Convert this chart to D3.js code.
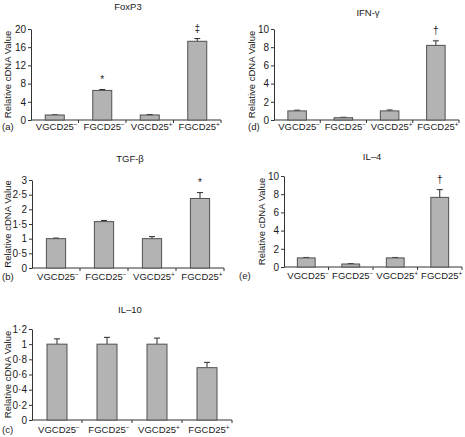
<!DOCTYPE html>
<html><head><meta charset="utf-8">
<script src="https://cdn.jsdelivr.net/npm/d3@7"></script>
<style>
body{margin:0;background:#fff}
text{font-family:"Liberation Sans",Arial,sans-serif;fill:#1a1a1a}
</style>
</head><body>
<svg id="chart" width="465" height="437"></svg>
<script>
// ---- data ----
const categories = ["VGCD25", "FGCD25", "VGCD25", "FGCD25"];
const categorySigns = ["\u2212", "\u2212", "+", "+"];

const foxp3Values = [1.1, 6.5, 1.1, 17.3];
const foxp3Errors = [0.05, 0.2, 0.1, 0.6];
const foxp3Marks = ["", "*", "", "\u2021"];
const foxp3Ticks = [0, 4, 8, 12, 16, 20];

const ifngValues = [1.0, 0.25, 1.0, 8.2];
const ifngErrors = [0.08, 0.05, 0.1, 0.5];
const ifngMarks = ["", "", "", "\u2020"];
const ifngTicks = [0, 2, 4, 6, 8, 10];

const tgfbValues = [1.0, 1.58, 1.0, 2.37];
const tgfbErrors = [0.02, 0.04, 0.07, 0.2];
const tgfbMarks = ["", "", "", "*"];
const tgfbTicks = [0, 0.5, 1, 1.5, 2, 2.5, 3];

const il4Values = [1.0, 0.33, 1.0, 7.65];
const il4Errors = [0.05, 0.04, 0.05, 0.85];
const il4Marks = ["", "", "", "\u2020"];
const il4Ticks = [0, 2, 4, 6, 8, 10];

const il10Values = [1.0, 1.0, 1.0, 0.69];
const il10Errors = [0.07, 0.09, 0.08, 0.07];
const il10Marks = ["", "", "", ""];
const il10Ticks = [0, 0.2, 0.4, 0.6, 0.8, 1, 1.2];

const yAxisTitle = "Relative cDNA Value";

// ---- layout (positions only) ----
const panels = [
  {title: "FoxP3", tag: "(a)", values: foxp3Values, errors: foxp3Errors, marks: foxp3Marks, ticks: foxp3Ticks,
   x0: 31, x1: 221, yTop: 29, yBot: 120, titleX: 128, titleY: 7, tagX: 2, labelY: 127, yTitleX: 8},
  {title: "IFN-\u03b3", tag: "(d)", values: ifngValues, errors: ifngErrors, marks: ifngMarks, ticks: ifngTicks,
   x0: 274, x1: 459, yTop: 29, yBot: 120, titleX: 368, titleY: 13, tagX: 248, labelY: 127, yTitleX: 252},
  {title: "TGF-\u03b2", tag: "(b)", values: tgfbValues, errors: tgfbErrors, marks: tgfbMarks, ticks: tgfbTicks,
   x0: 32, x1: 224, yTop: 180, yBot: 268, titleX: 130, titleY: 159, tagX: 2, labelY: 277, yTitleX: 8},
  {title: "IL\u20134", tag: "(e)", values: il4Values, errors: il4Errors, marks: il4Marks, ticks: il4Ticks,
   x0: 284, x1: 462, yTop: 176, yBot: 267, titleX: 372, titleY: 157, tagX: 239, labelY: 276, yTitleX: 262},
  {title: "IL\u201310", tag: "(c)", values: il10Values, errors: il10Errors, marks: il10Marks, ticks: il10Ticks,
   x0: 32, x1: 232, yTop: 329, yBot: 420, titleX: 130, titleY: 310, tagX: 2, labelY: 430, yTitleX: 8}
];

const svg = d3.select("#chart");
const fmt = v => String(v).replace(".", "\u00b7");
const axisColor = "#333";

panels.forEach(p => {
  const g = svg.append("g");
  const x = d3.scaleBand().domain(d3.range(categories.length)).range([p.x0, p.x1]).padding(0);
  const y = d3.scaleLinear().domain([0, d3.max(p.ticks)]).range([p.yBot, p.yTop]);
  const bw = x.bandwidth() * 0.4;

  // title
  g.append("text").attr("x", p.titleX).attr("y", p.titleY).attr("dy", "0.35em")
    .attr("text-anchor", "middle").attr("font-size", 9.5).text(p.title);

  // y axis
  const ya = g.append("g").attr("transform", `translate(${p.x0},0)`)
    .call(d3.axisLeft(y).tickValues(p.ticks).tickSize(3).tickSizeOuter(0).tickPadding(2).tickFormat(fmt));
  ya.select(".domain").attr("stroke", axisColor);
  ya.selectAll(".tick line").attr("stroke", axisColor);
  ya.selectAll(".tick text").attr("font-size", 10).attr("font-family", "Liberation Sans, Arial, sans-serif").attr("fill", "#1a1a1a");

  // y title
  const ymid = (p.yTop + p.yBot) / 2;
  g.append("text").attr("transform", `translate(${p.yTitleX},${ymid}) rotate(-90)`)
    .attr("dy", "0.35em").attr("text-anchor", "middle").attr("font-size", 9.5).text(yAxisTitle);

  // x axis line + boundary ticks
  g.append("line").attr("x1", p.x0).attr("x2", p.x1).attr("y1", p.yBot).attr("y2", p.yBot)
    .attr("stroke", axisColor);
  const bounds = d3.range(1, categories.length).map(i => x(i)).concat([p.x1]);
  g.selectAll(".bt").data(bounds).join("line")
    .attr("x1", d => d).attr("x2", d => d).attr("y1", p.yBot).attr("y2", p.yBot + 3)
    .attr("stroke", axisColor);

  const data = p.values.map((v, i) => ({i, v, e: p.errors[i], m: p.marks[i]}));
  // error bars (upper only)
  g.selectAll(".eb").data(data).join("line")
    .attr("x1", d => x(d.i) + x.bandwidth() / 2).attr("x2", d => x(d.i) + x.bandwidth() / 2)
    .attr("y1", d => y(d.v)).attr("y2", d => y(d.v + d.e)).attr("stroke", "#2a2a2a");
  g.selectAll(".ec").data(data).join("line")
    .attr("x1", d => x(d.i) + x.bandwidth() / 2 - 3).attr("x2", d => x(d.i) + x.bandwidth() / 2 + 3)
    .attr("y1", d => y(d.v + d.e)).attr("y2", d => y(d.v + d.e)).attr("stroke", "#2a2a2a");
  // bars
  g.selectAll(".bar").data(data).join("rect")
    .attr("x", d => x(d.i) + (x.bandwidth() - bw) / 2).attr("width", bw)
    .attr("y", d => y(d.v)).attr("height", d => y(0) - y(d.v))
    .attr("fill", "#b3b3b3").attr("stroke", "#505050").attr("stroke-width", 1);

  // significance marks
  g.selectAll(".mk").data(data.filter(d => d.m)).join("text")
    .attr("x", d => x(d.i) + x.bandwidth() / 2).attr("y", d => y(d.v + d.e) - 7)
    .attr("text-anchor", "middle").attr("font-size", 10).text(d => d.m);

  // category labels
  const lab = g.selectAll(".cl").data(categories).join("text")
    .attr("x", (d, i) => x(i) + x.bandwidth() / 2 + 2).attr("y", p.labelY).attr("dy", "0.35em")
    .attr("text-anchor", "middle").attr("font-size", 9.5);
  lab.append("tspan").text(d => d);
  lab.append("tspan").attr("dy", "-0.45em").attr("font-size", 6.5).text((d, i) => categorySigns[i]);

  // panel tag
  g.append("text").attr("x", p.tagX).attr("y", p.labelY).attr("dy", "0.35em")
    .attr("font-size", 9.5).text(p.tag);
});
</script>
</body></html>
